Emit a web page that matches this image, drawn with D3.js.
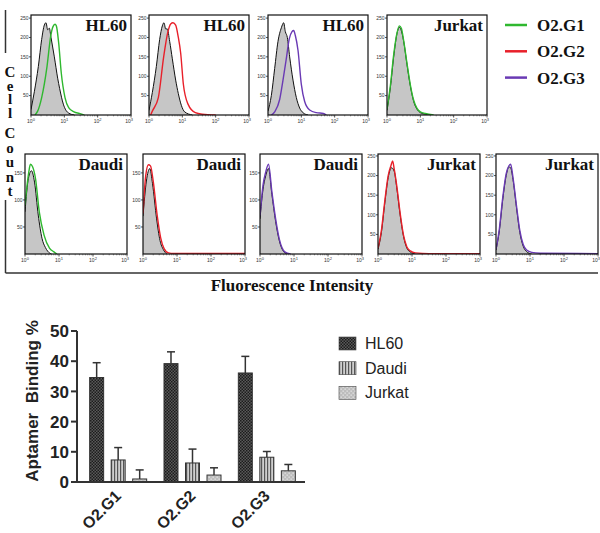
<!DOCTYPE html>
<html><head><meta charset="utf-8">
<script src="https://cdn.jsdelivr.net/npm/d3@7"></script>
<style>body{margin:0;background:#fff}</style>
</head><body><svg id="c" width="600" height="533"></svg>
<script>
// ---------- DATA ----------
const panelCells = ["HL60","HL60","HL60","Jurkat","Daudi","Daudi","Daudi","Jurkat","Jurkat"];
const panelAptamers = ["O2.G1","O2.G2","O2.G3","O2.G1","O2.G1","O2.G2","O2.G3","O2.G2","O2.G3"];
const panelYMax = [258,258,258,258,185,185,185,255,255];
const panelYTicks = [[50,100,150,200,250],[50,100,150,200,250],[50,100,150,200,250],[50,100,150,200,250],
  [50,100,150],[50,100,150],[50,100,150],[50,100,150,200,250],[50,100,150,200,250]];
const xTickDecades = [0,1,2,3];
// curves: [log10 fluorescence, cell count]
const controlCurves = [
  [[0,14],[0.1,60],[0.22,125],[0.32,195],[0.4,232],[0.45,238],[0.5,220],[0.55,224],[0.6,200],[0.7,150],[0.8,95],[0.86,68],[0.97,28],[1.05,12],[1.13,5],[1.3,0]],
  [[0,12],[0.1,58],[0.22,125],[0.32,195],[0.4,230],[0.45,238],[0.5,222],[0.55,222],[0.62,190],[0.7,145],[0.8,90],[0.88,55],[0.97,25],[1.07,8],[1.3,0]],
  [[0,10],[0.1,50],[0.2,120],[0.3,190],[0.4,225],[0.47,238],[0.52,215],[0.58,200],[0.65,150],[0.75,90],[0.85,45],[0.95,18],[1.05,6],[1.2,0]],
  [[0,12],[0.1,70],[0.2,150],[0.3,210],[0.37,226],[0.42,220],[0.5,190],[0.6,130],[0.7,75],[0.8,35],[0.9,15],[1.0,6],[1.15,2],[1.3,0]],
  [[0,78],[0.1,140],[0.19,154],[0.28,133],[0.39,72],[0.5,29],[0.6,12],[0.67,5],[0.78,0]],
  [[0,70],[0.1,135],[0.2,158],[0.28,130],[0.4,65],[0.5,25],[0.6,8],[0.7,0]],
  [[0,65],[0.09,120],[0.17,145],[0.25,158],[0.35,110],[0.46,60],[0.57,24],[0.7,4],[0.8,0]],
  [[0,12],[0.1,55],[0.2,130],[0.3,195],[0.4,220],[0.48,210],[0.55,170],[0.65,100],[0.75,45],[0.85,15],[0.95,5],[1.1,0]],
  [[0,10],[0.1,60],[0.2,140],[0.3,200],[0.38,222],[0.43,220],[0.5,190],[0.6,120],[0.7,55],[0.8,20],[0.9,6],[1.05,0]]
];
const sampleCurves = [
  [[0.12,0],[0.2,10],[0.32,45],[0.48,125],[0.59,203],[0.66,228],[0.72,234],[0.76,230],[0.83,186],[0.91,107],[1.02,45],[1.13,19],[1.29,8],[1.45,4],[1.6,0]],
  [[0.05,0],[0.1,10],[0.28,45],[0.44,150],[0.56,212],[0.65,235],[0.72,238],[0.8,232],[0.88,200],[0.95,160],[1.03,80],[1.17,28],[1.39,6],[1.6,2],[2.0,0]],
  [[0.1,0],[0.2,8],[0.35,40],[0.45,90],[0.54,140],[0.64,197],[0.72,215],[0.77,218],[0.82,205],[0.9,167],[1.0,79],[1.1,35],[1.25,13],[1.45,6],[1.66,4],[1.75,0]],
  [[0,15],[0.1,75],[0.2,155],[0.3,212],[0.37,230],[0.43,224],[0.5,192],[0.6,133],[0.7,78],[0.8,38],[0.9,17],[1.0,8],[1.15,4],[1.4,0]],
  [[0,90],[0.11,151],[0.16,166],[0.22,162],[0.31,139],[0.42,78],[0.56,35],[0.72,11],[0.85,4],[0.94,0]],
  [[0,75],[0.08,145],[0.16,165],[0.22,163],[0.3,135],[0.42,70],[0.52,30],[0.62,10],[0.75,2],[0.9,1],[1.5,1],[3,1]],
  [[0,71],[0.09,128],[0.17,152],[0.25,166],[0.35,115],[0.46,65],[0.57,27],[0.73,4],[0.9,0]],
  [[0,15],[0.1,60],[0.2,135],[0.3,200],[0.38,225],[0.43,237],[0.48,215],[0.55,175],[0.65,105],[0.75,48],[0.85,18],[0.95,8],[1.1,3],[1.5,1],[3,1]],
  [[0,12],[0.1,65],[0.2,145],[0.3,205],[0.38,225],[0.43,229],[0.5,195],[0.6,125],[0.7,60],[0.8,24],[0.9,10],[1.05,4],[1.3,2],[3,1]]
];
const aptamers = ["O2.G1","O2.G2","O2.G3"];
const aptamerColors = ["#2fb82f","#e8202a","#6a3ab4"];

const groups = ["O2.G1","O2.G2","O2.G3"];
const barSeries = ["HL60","Daudi","Jurkat"];
const hl60Mean = [34.6,39.2,36.1];
const hl60Err = [4.9,3.9,5.5];
const daudiMean = [7.3,6.3,8.2];
const daudiErr = [4.1,4.6,1.9];
const jurkatMean = [1.0,2.3,3.7];
const jurkatErr = [3.0,2.4,2.1];
const yTicksBar = [0,10,20,30,40,50];

// ---------- DRAW ----------
const svg = d3.select("#c");
const defs = svg.append("defs");
// patterns
const p1 = defs.append("pattern").attr("id","pHL").attr("patternUnits","userSpaceOnUse").attr("width",3).attr("height",3);
p1.append("rect").attr("width",3).attr("height",3).attr("fill","#5a5a5a");
p1.append("rect").attr("width",1.5).attr("height",1.5).attr("fill","#1c1c1c");
p1.append("rect").attr("x",1.5).attr("y",1.5).attr("width",1.5).attr("height",1.5).attr("fill","#1c1c1c");
const p2 = defs.append("pattern").attr("id","pDA").attr("patternUnits","userSpaceOnUse").attr("width",3).attr("height",3);
p2.append("rect").attr("width",3).attr("height",3).attr("fill","#cfcfcf");
p2.append("rect").attr("width",1.2).attr("height",3).attr("fill","#555");
const p3 = defs.append("pattern").attr("id","pJU").attr("patternUnits","userSpaceOnUse").attr("width",4).attr("height",4);
p3.append("rect").attr("width",4).attr("height",4).attr("fill","#bdbdbd");
p3.append("rect").attr("x",0.5).attr("y",0.5).attr("width",1.3).attr("height",1.3).attr("fill","#e6e6e6");
p3.append("rect").attr("x",2.5).attr("y",2.5).attr("width",1.3).attr("height",1.3).attr("fill","#e6e6e6");
const seriesFill = {"HL60":"url(#pHL)","Daudi":"url(#pDA)","Jurkat":"url(#pJU)"};

// histogram panel layout
const topLefts = [31,149,268,387], botLefts = [25,143,260,378,496];
const layout = [];
topLefts.forEach(l=>layout.push({x:l,y:15,w:100,h:100}));
botLefts.forEach(l=>layout.push({x:l,y:154,w:102,h:100}));

panelCells.forEach((cell,i)=>{
  const L = layout[i];
  const x = d3.scaleLinear().domain([0,3]).range([L.x, L.x+L.w]);
  const y = d3.scaleLinear().domain([0,panelYMax[i]]).range([L.y+L.h, L.y]);
  const g = svg.append("g");
  const clipId = "clip"+i;
  defs.append("clipPath").attr("id",clipId).append("rect").attr("x",L.x).attr("y",L.y).attr("width",L.w).attr("height",L.h);
  const gc = g.append("g").attr("clip-path",`url(#${clipId})`);
  const area = d3.area().x(d=>x(d[0])).y0(y(0)).y1(d=>y(d[1])).curve(d3.curveMonotoneX);
  const line = d3.line().x(d=>x(d[0])).y(d=>y(d[1])).curve(d3.curveMonotoneX);
  gc.append("path").attr("d",area(controlCurves[i])).attr("fill","#c6c6c6");
  gc.append("path").attr("d",line(controlCurves[i])).attr("fill","none").attr("stroke","#111").attr("stroke-width",1);
  const col = aptamerColors[aptamers.indexOf(panelAptamers[i])];
  gc.append("path").attr("d",line(sampleCurves[i])).attr("fill","none").attr("stroke",col).attr("stroke-width",1.4);
  // frame
  g.append("rect").attr("x",L.x).attr("y",L.y).attr("width",L.w).attr("height",L.h)
    .attr("fill","none").attr("stroke","#111").attr("stroke-width",1.2);
  // y ticks
  panelYTicks[i].forEach(t=>{
    g.append("line").attr("x1",L.x-2).attr("x2",L.x).attr("y1",y(t)).attr("y2",y(t)).attr("stroke","#222").attr("stroke-width",0.8);
    g.append("text").attr("x",L.x-2.5).attr("y",y(t)).attr("dy","0.35em").attr("text-anchor","end")
      .attr("font-family","Arial, Liberation Sans").attr("font-size",5).attr("fill","#333").text(t);
  });
  // x ticks (log)
  xTickDecades.forEach(k=>{
    g.append("line").attr("x1",x(k)).attr("x2",x(k)).attr("y1",L.y+L.h).attr("y2",L.y+L.h+2.5).attr("stroke","#222").attr("stroke-width",0.8);
    if(k<3) for(let m=2;m<10;m++){
      const xv = x(k+Math.log10(m));
      g.append("line").attr("x1",xv).attr("x2",xv).attr("y1",L.y+L.h).attr("y2",L.y+L.h+1.3).attr("stroke","#333").attr("stroke-width",0.6);
    }
    const last = (k===3);
    const t = g.append("text").attr("x",last ? x(k)+2 : x(k)).attr("y",L.y+L.h+8).attr("text-anchor",last?"end":"middle")
      .attr("font-family","Arial, Liberation Sans").attr("font-size",5).attr("fill","#333");
    t.append("tspan").text("10");
    t.append("tspan").attr("dy",-2).attr("font-size",4).text(k);
  });
  // title
  g.append("text").attr("x",L.x+L.w-4).attr("y",L.y+15.5).attr("text-anchor","end")
    .attr("font-family","Liberation Serif, Times New Roman, serif").attr("font-weight","bold").attr("font-size",17).attr("fill","#111").text(cell);
});

// legend for histograms
aptamers.forEach((a,i)=>{
  const yy = 25 + i*26.3;
  svg.append("line").attr("x1",505).attr("x2",527).attr("y1",yy).attr("y2",yy).attr("stroke",aptamerColors[i]).attr("stroke-width",2.5);
  svg.append("text").attr("x",537).attr("y",yy+6).attr("font-family","Liberation Serif, Times New Roman, serif")
    .attr("font-weight","bold").attr("font-size",17).attr("fill","#111").text(a);
});

// bracket and axis titles
const br = svg.append("g").attr("stroke","#333").attr("stroke-width",1.5).attr("fill","none");
br.append("line").attr("x1",5.5).attr("x2",5.5).attr("y1",10).attr("y2",53);
br.append("line").attr("x1",5.5).attr("x2",5.5).attr("y1",200).attr("y2",273);
br.append("line").attr("x1",5.5).attr("x2",598).attr("y1",273).attr("y2",273);
// vertical stacked "Cell Count": upright vertical text, one glyph per absolutely positioned chunk
const yLabelLetters = ["C","e","l","l","C","o","u","n","t"];
const yLabelPos = [72,85.5,99,112.5,133,147.5,162,176.5,191];
const yl = svg.append("text").attr("text-anchor","middle")
  .style("writing-mode","vertical-rl").style("text-orientation","upright")
  .attr("font-family","Liberation Serif, Times New Roman, serif").attr("font-weight","bold").attr("font-size",15).attr("fill","#111");
yLabelLetters.forEach((c,i)=>yl.append("tspan").attr("x",10).attr("y",yLabelPos[i]).text(c));
svg.append("text").attr("x",292).attr("y",291).attr("text-anchor","middle")
  .attr("font-family","Liberation Serif, Times New Roman, serif").attr("font-weight","bold").attr("font-size",17).attr("fill","#111").text("Fluorescence Intensity");

// ---------- BAR CHART ----------
const yB = d3.scaleLinear().domain([0,50]).range([482,331]);
const xB = d3.scaleBand().domain(groups).range([81,304]);
const xS = d3.scaleBand().domain(barSeries).range([-28.5,28.5]).paddingInner(0.35);
const means = {"HL60":hl60Mean,"Daudi":daudiMean,"Jurkat":jurkatMean};
const errs = {"HL60":hl60Err,"Daudi":daudiErr,"Jurkat":jurkatErr};
const bg = svg.append("g");
groups.forEach((grp,gi)=>{
  barSeries.forEach(s=>{
    const cx = xB(grp)+xB.bandwidth()/2 + xS(s);
    const v = means[s][gi], e = errs[s][gi];
    const bw = xS.bandwidth();
    const mid = cx + bw/2;
    bg.append("line").attr("x1",mid).attr("x2",mid).attr("y1",yB(v)).attr("y2",yB(v+e)).attr("stroke","#333").attr("stroke-width",1.5);
    bg.append("line").attr("x1",mid-4).attr("x2",mid+4).attr("y1",yB(v+e)).attr("y2",yB(v+e)).attr("stroke","#333").attr("stroke-width",1.5);
    bg.append("rect").attr("x",cx).attr("y",yB(v)).attr("width",bw).attr("height",yB(0)-yB(v))
      .attr("fill",seriesFill[s]).attr("stroke","#333").attr("stroke-width",1);
  });
});
// axes
bg.append("line").attr("x1",77).attr("x2",77).attr("y1",yB(50)).attr("y2",yB(0)+1).attr("stroke","#333").attr("stroke-width",2);
bg.append("line").attr("x1",76).attr("x2",305).attr("y1",yB(0)).attr("y2",yB(0)).attr("stroke","#333").attr("stroke-width",2);
yTicksBar.forEach(t=>{
  bg.append("line").attr("x1",71).attr("x2",77).attr("y1",yB(t)).attr("y2",yB(t)).attr("stroke","#333").attr("stroke-width",2);
  bg.append("text").attr("x",69).attr("y",yB(t)).attr("dy","0.36em").attr("text-anchor","end")
    .attr("font-family","Arial, Liberation Sans").attr("font-weight","bold").attr("font-size",17).attr("fill","#222").text(t);
});
groups.forEach(grp=>{
  const cx = xB(grp)+xB.bandwidth()/2;
  bg.append("text").attr("transform",`translate(${cx+4},${497}) rotate(-45)`).attr("text-anchor","end")
    .attr("font-family","Arial, Liberation Sans").attr("font-weight","bold").attr("font-size",16).attr("fill","#222").text(grp);
});
bg.append("text").attr("transform",`translate(38,401) rotate(-90)`).attr("text-anchor","middle")
  .attr("font-family","Arial, Liberation Sans").attr("font-weight","bold").attr("font-size",17).attr("fill","#222")
  .attr("xml:space","preserve").text("Aptamer  Binding %");
// bar legend
barSeries.forEach((s,i)=>{
  const yy = 337 + i*24.7;
  bg.append("rect").attr("x",339).attr("y",yy).attr("width",17).attr("height",13).attr("fill",seriesFill[s]).attr("stroke","#444").attr("stroke-width",0.6);
  bg.append("text").attr("x",365).attr("y",yy+12).attr("font-family","Arial, Liberation Sans").attr("font-size",16).attr("fill","#222").text(s);
});
</script></body></html>
